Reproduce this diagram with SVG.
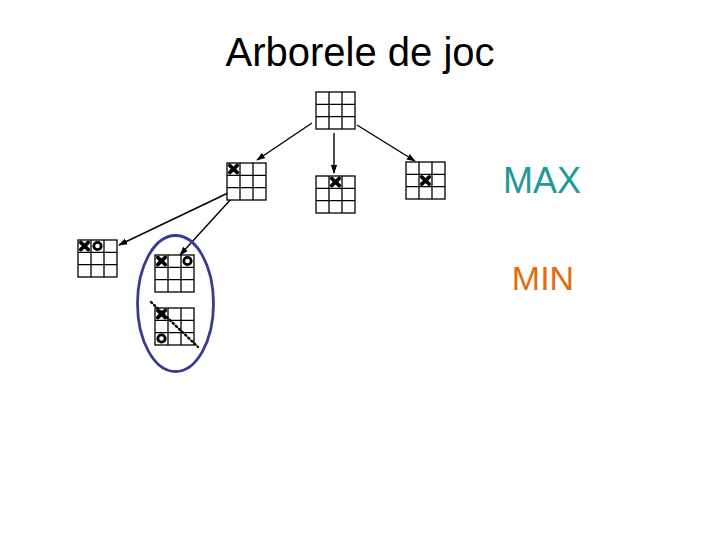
<svg xmlns="http://www.w3.org/2000/svg" width="720" height="540" viewBox="0 0 720 540">
<style>
.g{fill:#fff;stroke:#000;stroke-width:1.3}
.x{stroke:#000;stroke-width:3.6;stroke-linecap:round}
.o{fill:none;stroke:#000;stroke-width:2.8}
.c{stroke:#000;stroke-width:1.4;fill:none}
</style>
<defs>
<marker id="ah" viewBox="0 0 10 10" refX="9" refY="5" markerWidth="6.5" markerHeight="6.5" orient="auto">
<path d="M0,1.5 L10,5 L0,8.5 Z" fill="#000"/>
</marker>
<g id="grid">
<rect class="g" x="0" y="0" width="39" height="37"/>
<path class="g" d="M13,0V37M26,0V37M0,12.3H39M0,24.7H39"/>
</g>
<g id="xm"><path class="x" d="M-3.8,-3.6L3.8,3.6M3.8,-3.6L-3.8,3.6"/></g>
<g id="om"><circle class="o" cx="0" cy="0" r="3.7"/></g>
</defs>
<text x="360" y="66" font-family="Liberation Sans, Arial, sans-serif" font-size="40" text-anchor="middle" fill="#000">Arborele de joc</text>
<text x="542" y="193" font-family="Liberation Sans, Arial, sans-serif" font-size="36" text-anchor="middle" fill="#1f9a98">MAX</text>
<text x="543" y="290" font-family="Liberation Sans, Arial, sans-serif" font-size="34" text-anchor="middle" fill="#e36c0a">MIN</text>
<g id="connectors">
<line class="c" x1="312" y1="123" x2="257" y2="160" marker-end="url(#ah)"/>
<line class="c" x1="334" y1="133" x2="334" y2="173" marker-end="url(#ah)"/>
<line class="c" x1="357" y1="125" x2="415" y2="161" marker-end="url(#ah)"/>
<line class="c" x1="228" y1="193" x2="119" y2="245" marker-end="url(#ah)"/>
<line class="c" x1="232" y1="198" x2="180" y2="255" marker-end="url(#ah)"/>
</g>
<g id="root"><use href="#grid" x="316" y="92"/></g>
<g id="n1"><use href="#grid" x="227" y="163"/><use href="#xm" x="233.5" y="169"/></g>
<g id="n2"><use href="#grid" x="316" y="176"/><use href="#xm" x="335.5" y="182"/></g>
<g id="n3"><use href="#grid" x="406" y="162"/><use href="#xm" x="425.5" y="180.5"/></g>
<g id="n4"><use href="#grid" x="78" y="240"/><use href="#xm" x="84.5" y="246"/><use href="#om" x="97.5" y="246"/></g>
<g id="n5"><use href="#grid" x="155" y="255"/><use href="#xm" x="161.5" y="261"/><use href="#om" x="187.5" y="261"/></g>
<g id="n6"><use href="#grid" x="155" y="308"/><use href="#xm" x="161.5" y="314"/><use href="#om" x="161.5" y="338.5"/>
<line x1="151" y1="302" x2="198" y2="347" stroke="#000" stroke-width="2.4" stroke-dasharray="1.5,2.8" stroke-linecap="round"/></g>
<g id="highlight"><ellipse cx="175.5" cy="303.5" rx="38" ry="68" fill="none" stroke="#3a3a94" stroke-width="2.8"/></g>
</svg>
